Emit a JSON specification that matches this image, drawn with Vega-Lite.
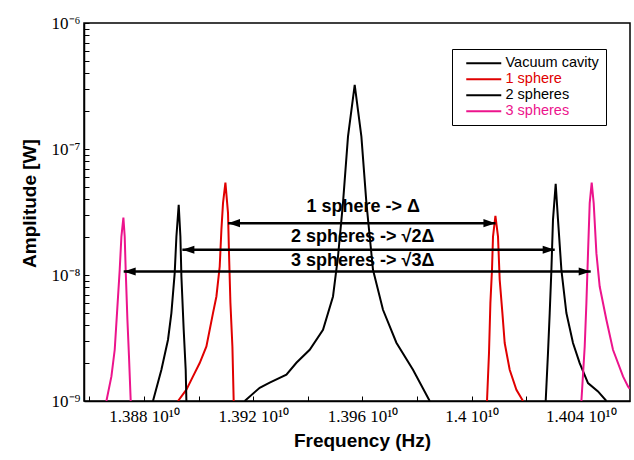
{
"$schema": "https://vega.github.io/schema/vega-lite/v6.json",
"width": 546,
"height": 378,
"autosize": {"type": "none"},
"padding": {"left": 84, "top": 23, "right": 4, "bottom": 59},
"background": "white",
"config": {
  "view": {"stroke": "black", "strokeWidth": 1.5},
  "axis": {"grid": false, "domainColor": "black", "domainWidth": 1.5, "tickColor": "black", "tickWidth": 1, "tickSize": -5, "labelFont": "Liberation Serif", "labelFontSize": 17, "labelColor": "black", "labelOverlap": false, "labelFlush": false, "titleFont": "Liberation Sans", "titleFontSize": 19, "titleFontWeight": "bold", "titleColor": "black"}
},
"datasets": {
  "curves": [
    {"s": "Vacuum cavity", "p": "a", "f": 1.391686e10, "a": 1e-9},
    {"s": "Vacuum cavity", "p": "a", "f": 1.392236e10, "a": 1.274e-9},
    {"s": "Vacuum cavity", "p": "a", "f": 1.392602e10, "a": 1.397e-9},
    {"s": "Vacuum cavity", "p": "a", "f": 1.393214e10, "a": 1.616e-9},
    {"s": "Vacuum cavity", "p": "a", "f": 1.393580e10, "a": 2.012e-9},
    {"s": "Vacuum cavity", "p": "a", "f": 1.394067e10, "a": 2.551e-9},
    {"s": "Vacuum cavity", "p": "a", "f": 1.394555e10, "a": 3.676e-9},
    {"s": "Vacuum cavity", "p": "a", "f": 1.394921e10, "a": 6.754e-9},
    {"s": "Vacuum cavity", "p": "a", "f": 1.395104e10, "a": 1.401e-8},
    {"s": "Vacuum cavity", "p": "a", "f": 1.395287e10, "a": 3.737e-8},
    {"s": "Vacuum cavity", "p": "a", "f": 1.395470e10, "a": 1.254e-7},
    {"s": "Vacuum cavity", "p": "a", "f": 1.395716e10, "a": 3.224e-7},
    {"s": "Vacuum cavity", "p": "a", "f": 1.395961e10, "a": 1.254e-7},
    {"s": "Vacuum cavity", "p": "a", "f": 1.396144e10, "a": 3.737e-8},
    {"s": "Vacuum cavity", "p": "a", "f": 1.396386e10, "a": 1.100e-8},
    {"s": "Vacuum cavity", "p": "a", "f": 1.396752e10, "a": 5.297e-9},
    {"s": "Vacuum cavity", "p": "a", "f": 1.397243e10, "a": 2.900e-9},
    {"s": "Vacuum cavity", "p": "a", "f": 1.397851e10, "a": 1.771e-9},
    {"s": "Vacuum cavity", "p": "a", "f": 1.398463e10, "a": 1e-9},

    {"s": "1 sphere", "p": "a", "f": 1.389243e10, "a": 1e-9},
    {"s": "1 sphere", "p": "a", "f": 1.389551e10, "a": 1.229e-9},
    {"s": "1 sphere", "p": "a", "f": 1.389793e10, "a": 1.567e-9},
    {"s": "1 sphere", "p": "a", "f": 1.390038e10, "a": 2.001e-9},
    {"s": "1 sphere", "p": "a", "f": 1.390284e10, "a": 2.710e-9},
    {"s": "1 sphere", "p": "a", "f": 1.390525e10, "a": 4.987e-9},
    {"s": "1 sphere", "p": "a", "f": 1.390650e10, "a": 6.754e-9},
    {"s": "1 sphere", "p": "a", "f": 1.390771e10, "a": 1.168e-8},
    {"s": "1 sphere", "p": "a", "f": 1.390833e10, "a": 2.283e-8},
    {"s": "1 sphere", "p": "a", "f": 1.390892e10, "a": 3.716e-8},
    {"s": "1 sphere", "p": "a", "f": 1.390980e10, "a": 5.414e-8},
    {"s": "1 sphere", "p": "a", "f": 1.391075e10, "a": 3.097e-8},
    {"s": "1 sphere", "p": "a", "f": 1.391111e10, "a": 1.500e-8},
    {"s": "1 sphere", "p": "a", "f": 1.391163e10, "a": 6.018e-9},
    {"s": "1 sphere", "p": "a", "f": 1.391236e10, "a": 2.710e-9},
    {"s": "1 sphere", "p": "a", "f": 1.391283e10, "a": 1e-9},
    {"s": "1 sphere", "p": "b", "f": 1.400562e10, "a": 1e-9},
    {"s": "1 sphere", "p": "b", "f": 1.400635e10, "a": 2.403e-9},
    {"s": "1 sphere", "p": "b", "f": 1.400686e10, "a": 5.987e-9},
    {"s": "1 sphere", "p": "b", "f": 1.400745e10, "a": 1.100e-8},
    {"s": "1 sphere", "p": "b", "f": 1.400782e10, "a": 2.020e-8},
    {"s": "1 sphere", "p": "b", "f": 1.400870e10, "a": 2.948e-8},
    {"s": "1 sphere", "p": "b", "f": 1.400965e10, "a": 2.020e-8},
    {"s": "1 sphere", "p": "b", "f": 1.401027e10, "a": 9.160e-9},
    {"s": "1 sphere", "p": "b", "f": 1.401126e10, "a": 4.987e-9},
    {"s": "1 sphere", "p": "b", "f": 1.401210e10, "a": 2.884e-9},
    {"s": "1 sphere", "p": "b", "f": 1.401393e10, "a": 1.771e-9},
    {"s": "1 sphere", "p": "b", "f": 1.401639e10, "a": 1.229e-9},
    {"s": "1 sphere", "p": "b", "f": 1.401881e10, "a": 1e-9},

    {"s": "2 spheres", "p": "a", "f": 1.388327e10, "a": 1e-9},
    {"s": "2 spheres", "p": "a", "f": 1.388635e10, "a": 1.771e-9},
    {"s": "2 spheres", "p": "a", "f": 1.388877e10, "a": 3.063e-9},
    {"s": "2 spheres", "p": "a", "f": 1.389001e10, "a": 4.987e-9},
    {"s": "2 spheres", "p": "a", "f": 1.389122e10, "a": 1.035e-8},
    {"s": "2 spheres", "p": "a", "f": 1.389185e10, "a": 2.020e-8},
    {"s": "2 spheres", "p": "a", "f": 1.389269e10, "a": 3.603e-8},
    {"s": "2 spheres", "p": "a", "f": 1.389331e10, "a": 2.020e-8},
    {"s": "2 spheres", "p": "a", "f": 1.389368e10, "a": 9.730e-9},
    {"s": "2 spheres", "p": "a", "f": 1.389452e10, "a": 3.676e-9},
    {"s": "2 spheres", "p": "a", "f": 1.389525e10, "a": 1.771e-9},
    {"s": "2 spheres", "p": "a", "f": 1.389551e10, "a": 1e-9},
    {"s": "2 spheres", "p": "b", "f": 1.402712e10, "a": 1e-9},
    {"s": "2 spheres", "p": "b", "f": 1.402796e10, "a": 2.403e-9},
    {"s": "2 spheres", "p": "b", "f": 1.402859e10, "a": 4.987e-9},
    {"s": "2 spheres", "p": "b", "f": 1.402921e10, "a": 1.100e-8},
    {"s": "2 spheres", "p": "b", "f": 1.402979e10, "a": 2.740e-8},
    {"s": "2 spheres", "p": "b", "f": 1.403078e10, "a": 5.287e-8},
    {"s": "2 spheres", "p": "b", "f": 1.403163e10, "a": 2.740e-8},
    {"s": "2 spheres", "p": "b", "f": 1.403287e10, "a": 1.100e-8},
    {"s": "2 spheres", "p": "b", "f": 1.403470e10, "a": 4.987e-9},
    {"s": "2 spheres", "p": "b", "f": 1.403712e10, "a": 2.884e-9},
    {"s": "2 spheres", "p": "b", "f": 1.403957e10, "a": 2.001e-9},
    {"s": "2 spheres", "p": "b", "f": 1.404262e10, "a": 1.389e-9},
    {"s": "2 spheres", "p": "b", "f": 1.404628e10, "a": 1.191e-9},
    {"s": "2 spheres", "p": "b", "f": 1.404935e10, "a": 1e-9},

    {"s": "3 spheres", "p": "a", "f": 1.386621e10, "a": 1e-9},
    {"s": "3 spheres", "p": "a", "f": 1.386804e10, "a": 1.567e-9},
    {"s": "3 spheres", "p": "a", "f": 1.386925e10, "a": 2.551e-9},
    {"s": "3 spheres", "p": "a", "f": 1.387009e10, "a": 4.987e-9},
    {"s": "3 spheres", "p": "a", "f": 1.387108e10, "a": 1.100e-8},
    {"s": "3 spheres", "p": "a", "f": 1.387170e10, "a": 2.020e-8},
    {"s": "3 spheres", "p": "a", "f": 1.387243e10, "a": 2.858e-8},
    {"s": "3 spheres", "p": "a", "f": 1.387291e10, "a": 2.020e-8},
    {"s": "3 spheres", "p": "a", "f": 1.387327e10, "a": 1.100e-8},
    {"s": "3 spheres", "p": "a", "f": 1.387390e10, "a": 4.412e-9},
    {"s": "3 spheres", "p": "a", "f": 1.387448e10, "a": 2.258e-9},
    {"s": "3 spheres", "p": "a", "f": 1.387511e10, "a": 1e-9},
    {"s": "3 spheres", "p": "b", "f": 1.404020e10, "a": 1e-9},
    {"s": "3 spheres", "p": "b", "f": 1.404141e10, "a": 2.710e-9},
    {"s": "3 spheres", "p": "b", "f": 1.404203e10, "a": 5.987e-9},
    {"s": "3 spheres", "p": "b", "f": 1.404262e10, "a": 1.491e-8},
    {"s": "3 spheres", "p": "b", "f": 1.404324e10, "a": 3.716e-8},
    {"s": "3 spheres", "p": "b", "f": 1.404397e10, "a": 5.414e-8},
    {"s": "3 spheres", "p": "b", "f": 1.404470e10, "a": 3.716e-8},
    {"s": "3 spheres", "p": "b", "f": 1.404569e10, "a": 1.491e-8},
    {"s": "3 spheres", "p": "b", "f": 1.404690e10, "a": 8.106e-9},
    {"s": "3 spheres", "p": "b", "f": 1.404935e10, "a": 4.412e-9},
    {"s": "3 spheres", "p": "b", "f": 1.405177e10, "a": 2.551e-9},
    {"s": "3 spheres", "p": "b", "f": 1.405544e10, "a": 1.567e-9},
    {"s": "3 spheres", "p": "b", "f": 1.405727e10, "a": 1.305e-9},
    {"s": "3 spheres", "p": "b", "f": 1.405789e10, "a": 1.25e-9}
  ],
  "arrows": [
    {"x1": 1.391075e10, "x2": 1.400870e10, "y": 2.58e-8},
    {"x1": 1.389404e10, "x2": 1.403042e10, "y": 1.584e-8},
    {"x1": 1.387254e10, "x2": 1.404360e10, "y": 1.066e-8}
  ],
  "notes": [
    {"t": "1 sphere -> Δ", "f": 1.39603e10, "a": 3.443e-8},
    {"t": "2 spheres -> √2Δ", "f": 1.39601e10, "a": 1.991e-8},
    {"t": "3 spheres -> √3Δ", "f": 1.39601e10, "a": 1.284e-8}
  ]
},
"layer": [
  {
    "data": {"name": "curves"},
    "mark": {"type": "line", "strokeWidth": 2, "clip": true},
    "encoding": {
      "x": {"field": "f", "type": "quantitative",
        "scale": {"domain": [1.3858e10, 1.4058e10], "nice": false, "zero": false},
        "axis": {"title": "Frequency (Hz)",
          "values": [13860000000, 13870000000, 13880000000, 13890000000, 13900000000, 13910000000, 13920000000, 13930000000, 13940000000, 13950000000, 13960000000, 13970000000, 13980000000, 13990000000, 14000000000, 14010000000, 14020000000, 14030000000, 14040000000, 14050000000],
          "labelExpr": "round(datum.value/1e7) % 4 == 0 ? format(datum.value/1e10, '.4~f') + ' 10¹⁰' : ''",
          "labelPadding": 12, "titleX": 278, "titleY": 39, "titleBaseline": "middle"}},
      "y": {"field": "a", "type": "quantitative",
        "scale": {"type": "log", "domain": [1e-9, 1e-6], "nice": false},
        "axis": {"title": "Amplitude [W]",
          "values": [1e-9, 2e-9, 3e-9, 4e-9, 5e-9, 6e-9, 7e-9, 8e-9, 9e-9, 1e-8, 2e-8, 3e-8, 4e-8, 5e-8, 6e-8, 7e-8, 8e-8, 9e-8, 1e-7, 2e-7, 3e-7, 4e-7, 5e-7, 6e-7, 7e-7, 8e-7, 9e-7, 1e-6],
          "labelExpr": "abs(log(datum.value)/LN10 - round(log(datum.value)/LN10)) < 0.001 ? '10' + ['⁻⁹','⁻⁸','⁻⁷','⁻⁶'][round(log(datum.value)/LN10)+9] : ''",
          "labelPadding": 9, "titleX": -55, "titleY": 180, "titleBaseline": "middle", "titleAlign": "center"}},
      "color": {"field": "s", "type": "nominal",
        "scale": {"domain": ["Vacuum cavity", "1 sphere", "2 spheres", "3 spheres"], "range": ["black", "#e00000", "black", "#ec148c"]},
        "legend": {"title": null, "orient": "none", "legendX": 368, "legendY": 26, "fillColor": "white", "strokeColor": "black", "padding": 7,
          "labelFont": "Liberation Sans", "labelFontSize": 14.5,
          "labelColor": {"expr": "datum.label == '1 sphere' ? '#e00000' : datum.label == '3 spheres' ? '#ec148c' : 'black'"},
          "symbolType": "M0,0H10", "symbolSize": 49, "symbolStrokeWidth": 2, "labelOffset": 32, "rowPadding": 1}},
      "detail": {"field": "p"}
    }
  },
  {
    "data": {"name": "arrows"},
    "mark": {"type": "rule", "strokeWidth": 2.5, "color": "black"},
    "encoding": {
      "x": {"field": "x1", "type": "quantitative", "scale": {"domain": [1.3858e10, 1.4058e10], "nice": false, "zero": false}},
      "x2": {"field": "x2"},
      "y": {"field": "y", "type": "quantitative", "scale": {"type": "log", "domain": [1e-9, 1e-6], "nice": false}}
    }
  },
  {
    "data": {"name": "arrows"},
    "mark": {"type": "point", "shape": "M0,0L2,-0.67L2,0.67Z", "filled": true, "color": "black", "opacity": 1, "size": 144},
    "encoding": {
      "x": {"field": "x1", "type": "quantitative", "scale": {"domain": [1.3858e10, 1.4058e10], "nice": false, "zero": false}},
      "y": {"field": "y", "type": "quantitative", "scale": {"type": "log", "domain": [1e-9, 1e-6], "nice": false}}
    }
  },
  {
    "data": {"name": "arrows"},
    "mark": {"type": "point", "shape": "M0,0L-2,-0.67L-2,0.67Z", "filled": true, "color": "black", "opacity": 1, "size": 144},
    "encoding": {
      "x": {"field": "x2", "type": "quantitative", "scale": {"domain": [1.3858e10, 1.4058e10], "nice": false, "zero": false}},
      "y": {"field": "y", "type": "quantitative", "scale": {"type": "log", "domain": [1e-9, 1e-6], "nice": false}}
    }
  },
  {
    "data": {"name": "notes"},
    "mark": {"type": "text", "font": "Liberation Sans", "fontSize": 18, "fontWeight": "bold", "color": "black", "align": "center", "baseline": "middle"},
    "encoding": {
      "x": {"field": "f", "type": "quantitative", "scale": {"domain": [1.3858e10, 1.4058e10], "nice": false, "zero": false}},
      "y": {"field": "a", "type": "quantitative", "scale": {"type": "log", "domain": [1e-9, 1e-6], "nice": false}},
      "text": {"field": "t"}
    }
  }
]
}
